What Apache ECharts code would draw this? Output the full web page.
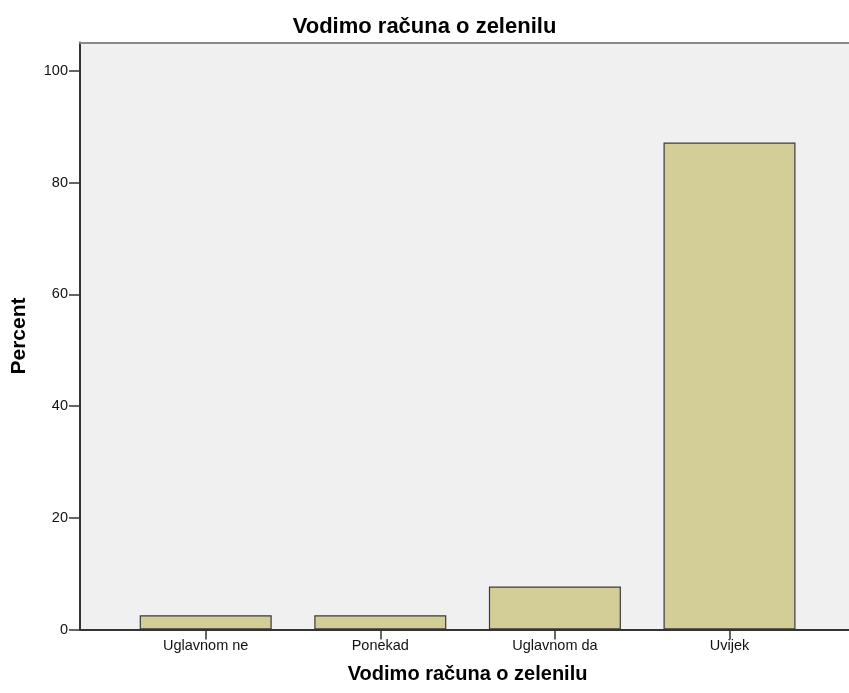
<!DOCTYPE html>
<html>
<head>
<meta charset="utf-8">
<script src="https://cdn.jsdelivr.net/npm/echarts@6/dist/echarts.min.js"></script>
<style>html,body{margin:0;padding:0;background:#fff}#c{width:849px;height:693px}</style>
</head>
<body>
<div id="c"></div>
<script>
const titleText = 'Vodimo računa o zelenilu';
const categories = ['Uglavnom ne', 'Ponekad', 'Uglavnom da', 'Uvijek'];
const percentValues = [2.56, 2.56, 7.69, 87.18];
const yTicks = [0, 20, 40, 60, 80, 100];
const yName = 'Percent';
const xName = 'Vodimo računa o zelenilu';

const FONT = '"Liberation Sans", Arial, sans-serif';
const YMAX = 105.1;

const chart = echarts.init(document.getElementById('c'), null, {renderer: 'canvas'});
chart.setOption({
  animation: false,
  backgroundColor: '#ffffff',
  title: {
    text: titleText, left: 'center', top: 11,
    textStyle: {fontFamily: FONT, fontSize: 22, fontWeight: 'bold', color: '#000'}
  },
  grid: [
    {left: 80, top: 42.5, right: 0, bottom: 63.5, show: true, backgroundColor: '#f0f0f0',
     borderWidth: 0},
    {left: 118.4, top: 42.5, right: 32.2, bottom: 63.5}
  ],
  xAxis: [
    {gridIndex: 0, type: 'value', min: 0, max: 1,
     axisLine: {show: true, lineStyle: {color: '#333', width: 2}},
     axisTick: {show: false}, axisLabel: {show: false}, splitLine: {show: false}},
    {gridIndex: 1, type: 'category', data: categories,
     name: xName, nameLocation: 'middle', nameGap: 35,
     nameTextStyle: {fontFamily: FONT, fontSize: 20, fontWeight: 'bold', color: '#000'},
     axisLine: {show: false},
     axisTick: {show: true, alignWithLabel: true, length: 10, lineStyle: {color: '#333', width: 1.5}},
     axisLabel: {margin: 9, fontFamily: FONT, fontSize: 14.5, color: '#111'},
     splitLine: {show: false}},
    {gridIndex: 0, type: 'value', min: 0, max: 1, position: 'top',
     axisLine: {show: true, lineStyle: {color: '#8a8a8a', width: 2}},
     axisTick: {show: false}, axisLabel: {show: false}, splitLine: {show: false}}
  ],
  yAxis: [
    {gridIndex: 0, type: 'value', min: 0, max: YMAX,
     name: yName, nameLocation: 'middle', nameRotate: 90, nameGap: 50,
     nameTextStyle: {fontFamily: FONT, fontSize: 21, fontWeight: 'bold', color: '#000'},
     axisLine: {show: true, lineStyle: {color: '#333', width: 2}},
     axisTick: {show: true, length: 11, customValues: yTicks, lineStyle: {color: '#333', width: 1.5}},
     axisLabel: {margin: 12, fontFamily: FONT, fontSize: 14.5, color: '#111', customValues: yTicks},
     splitLine: {show: false}},
    {gridIndex: 1, type: 'value', min: 0, max: YMAX, show: false}
  ],
  series: [{
    type: 'bar', xAxisIndex: 1, yAxisIndex: 1,
    data: percentValues, barWidth: 132,
    itemStyle: {color: '#d3ce97', borderColor: '#3a3a3a', borderWidth: 1.2},
    z: 3
  }]
});
</script>
</body>
</html>
